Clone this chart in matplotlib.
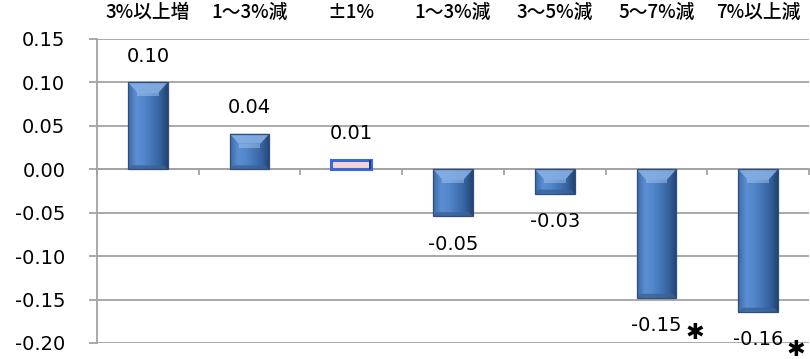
import numpy as np
import matplotlib
matplotlib.use("Agg")
import matplotlib.pyplot as plt
from matplotlib.patches import Polygon, Rectangle
from matplotlib.colors import LinearSegmentedColormap

# Change-rate bands and their mean effects
categories = ["3%以上増", "1〜3%減", "±1%", "1〜3%減", "3〜5%減", "5〜7%減", "7%以上減"]
values = [0.100, 0.041, 0.011, -0.054, -0.028, -0.148, -0.164]
significant = [False, False, False, False, False, True, True]
y_ticks = [0.15, 0.10, 0.05, 0.00, -0.05, -0.10, -0.15, -0.20]

GRID = "#a3a3a3"
W, H, DPI = 810, 359, 100
PT = 72 / DPI  # points per pixel

fig = plt.figure(figsize=(W / DPI, H / DPI), dpi=DPI)
ax = fig.add_axes([97 / W, 16 / H, (809 - 97) / W, (343 - 39) / H])
ax.set_xlim(-0.5, len(categories) - 0.5)
ax.set_ylim(min(y_ticks), max(y_ticks))

# axes styling: gray left spine, zero baseline with downward category ticks
for s in ("top", "right"):
    ax.spines[s].set_visible(False)
ax.spines["left"].set_color(GRID)
ax.spines["left"].set_linewidth(1.3)
ax.spines["bottom"].set_position(("data", 0))
ax.spines["bottom"].set_color(GRID)
ax.spines["bottom"].set_linewidth(1.3)
ax.set_xticks(np.arange(len(categories) + 1) - 0.5)
ax.set_xticklabels([])
ax.tick_params(axis="x", direction="out", length=4.5, width=1.3, color=GRID)
ax.set_yticks(y_ticks)
ax.set_yticklabels([f"{t:.2f}" for t in y_ticks], fontsize=14, family="DejaVu Sans")
ax.tick_params(axis="y", direction="out", length=5.8, width=1.3, color=GRID, pad=17)
ax.yaxis.grid(True, color=GRID, linewidth=1.3)
ax.set_axisbelow(True)

# pixel-to-data conversion for bevel sizes
ax_w_px = (809 - 97)
ax_h_px = (343 - 39)
dx_px = len(categories) / ax_w_px
dy_px = (max(y_ticks) - min(y_ticks)) / ax_h_px

bar_w = 0.39
body_cmap = LinearSegmentedColormap.from_list(
    "body", ["#3d6aa6", "#5b8fd3", "#5287cb", "#4475b6", "#3563a0", "#24446f"])
grad = np.linspace(0, 1, 64).reshape(1, -1)

for i, v in enumerate(values):
    x0, x1 = i - bar_w / 2, i + bar_w / 2
    lo, hi = min(0, v), max(0, v)
    h_px = (hi - lo) / dy_px
    if h_px < 12:
        # very short bar: outlined with a pale fill
        ax.add_patch(Rectangle((x0, lo), x1 - x0, hi - lo, facecolor="#f3d3d3",
                               edgecolor="#3b68d6", linewidth=2.2, zorder=3))
        ax.add_patch(Rectangle((x1 - 2.5 * dx_px, lo), 2.5 * dx_px, hi - lo,
                               facecolor="#1f3c80", edgecolor="none", zorder=4))
        continue
    rect = Rectangle((x0, lo), x1 - x0, hi - lo, facecolor="#4f81bd",
                     edgecolor="none", zorder=3)
    ax.add_patch(rect)
    im = ax.imshow(grad, cmap=body_cmap, extent=(x0, x1, lo, hi),
                   aspect="auto", zorder=3.1, interpolation="bicubic")
    im.set_clip_path(rect)
    # bevel on the upper end and a darker strip at the lower end
    bx = 9 * dx_px
    by = min(10 * dy_px, (hi - lo) / 2)
    ax.add_patch(Polygon([(x0, hi), (x1, hi), (x1 - bx, hi - by), (x0 + bx, hi - by)],
                         closed=True, facecolor="#86afe3", edgecolor="none",
                         alpha=0.9, zorder=3.2))
    ax.add_patch(Polygon([(x0 + bx, hi - by), (x1 - bx, hi - by), (x1 - bx, hi - by * 1.4),
                          (x0 + bx, hi - by * 1.4)], closed=True, facecolor="#a6c6ee",
                         edgecolor="none", alpha=0.5, zorder=3.2))
    by2 = 4 * dy_px
    ax.add_patch(Polygon([(x0, lo), (x1, lo), (x1 - 4 * dx_px, lo + by2),
                          (x0 + 4 * dx_px, lo + by2)], closed=True, facecolor="#3a6296",
                         edgecolor="none", alpha=0.8, zorder=3.2))
    ax.add_patch(Rectangle((x0, lo), x1 - x0, hi - lo, facecolor="none",
                           edgecolor="#2e4f7c", linewidth=0.9, zorder=3.3))

# value labels, with a star beside significant ones
n_sig = 0
for i, v in enumerate(values):
    off = 26 if v >= 0 else -28
    ax.annotate(f"{v:.2f}", (i, v), xytext=(0, off * PT), textcoords="offset points",
                ha="center", va="center", fontsize=14, family="DejaVu Sans",
                annotation_clip=False, zorder=5)
    if significant[i]:
        ax.annotate("✱", (i, v), xytext=(38 * PT, (off - 7 - 3 * n_sig) * PT),
                    textcoords="offset points", ha="center", va="center", fontsize=16,
                    family="DejaVu Sans", annotation_clip=False, zorder=5)
        n_sig += 1

# category labels along the top
for i, c in enumerate(categories):
    ax.text(i, 1 + 27 / ax_h_px, c, transform=ax.get_xaxis_transform(),
            ha="center", va="center", fontsize=13.5, weight="medium",
            family=["Noto Sans CJK JP", "DejaVu Sans"])

fig.savefig("out.png", dpi=DPI)
